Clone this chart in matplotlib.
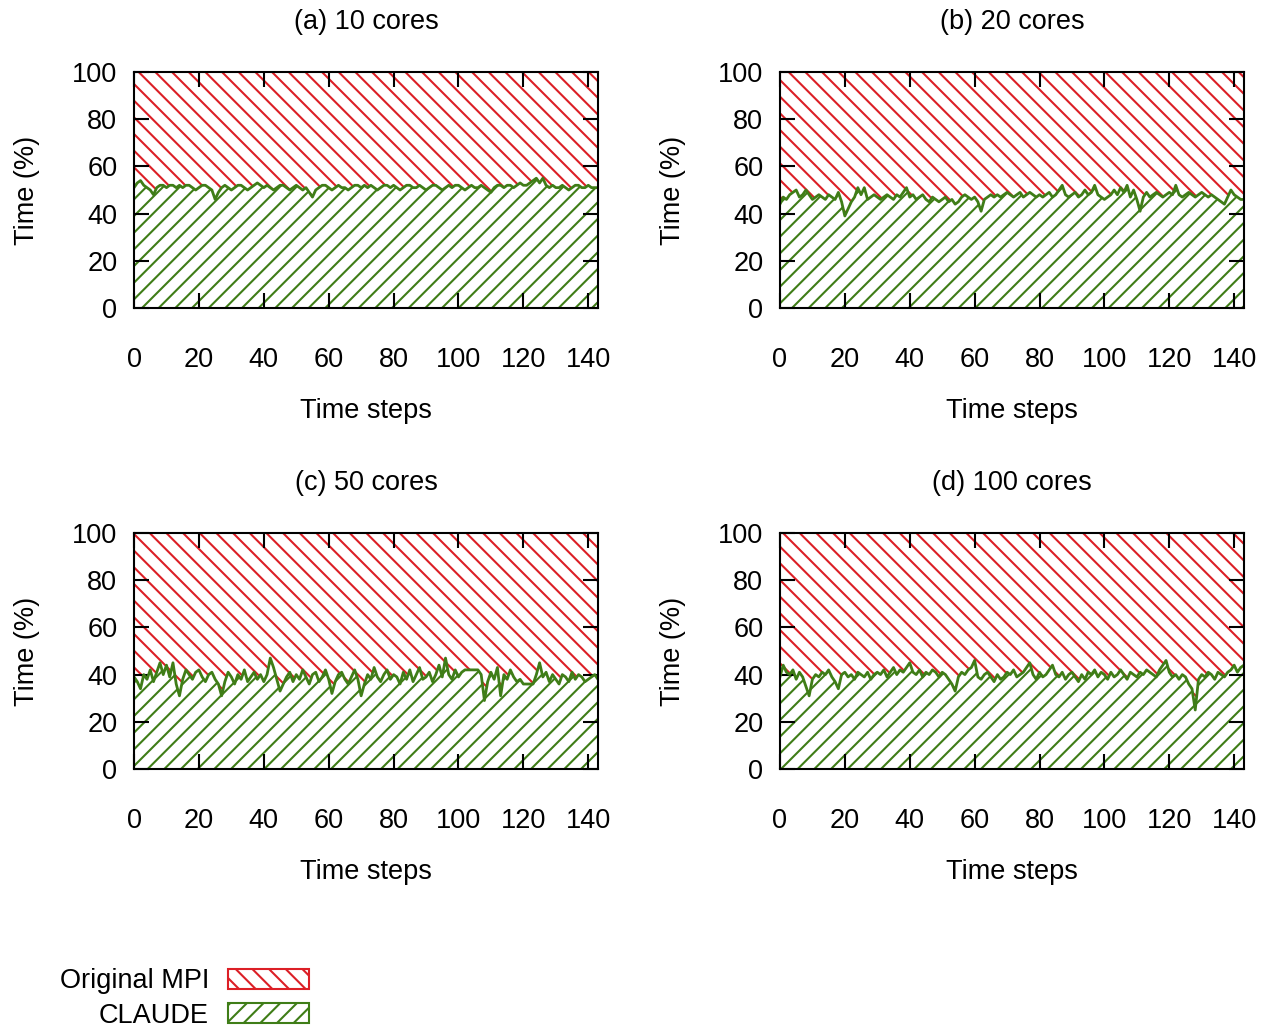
import matplotlib.pyplot as plt
import numpy as np
from matplotlib.patches import Patch

# Share of each time step (%) spent in CLAUDE; the rest is the original MPI code
claude_10 = [51, 53, 54, 52, 51, 50, 48, 51, 52, 52, 51, 52, 52, 51, 52, 51, 52, 52, 51, 50,
             51, 52, 52, 51, 50, 46, 49, 51, 52, 51, 50, 51, 52, 52, 51, 50, 51, 52, 53, 52,
             51, 52, 51, 50, 51, 52, 52, 51, 50, 51, 52, 51, 50, 51, 49, 47, 50, 51, 52, 52,
             51, 50, 51, 52, 51, 51, 50, 51, 52, 52, 51, 52, 51, 52, 51, 50, 51, 52, 52, 51,
             52, 51, 50, 51, 52, 52, 51, 51, 52, 51, 50, 51, 52, 52, 51, 50, 51, 52, 51, 52,
             52, 51, 50, 51, 52, 51, 51, 52, 51, 50, 49, 51, 52, 52, 51, 52, 52, 51, 52, 53,
             52, 52, 53, 54, 55, 53, 55, 52, 51, 52, 51, 51, 52, 51, 50, 51, 52, 52, 51, 51,
             52, 51, 51, 51]

claude_20 = [44, 47, 46, 48, 49, 50, 47, 48, 50, 48, 46, 47, 48, 47, 46, 48, 47, 46, 49, 45,
             39, 42, 45, 47, 51, 48, 51, 46, 47, 48, 47, 46, 47, 48, 47, 46, 48, 47, 49, 51,
             47, 48, 46, 47, 48, 46, 45, 47, 46, 45, 46, 47, 45, 46, 44, 45, 47, 48, 47, 46,
             47, 45, 41, 46, 47, 48, 47, 48, 47, 48, 49, 48, 47, 48, 49, 47, 48, 49, 48, 47,
             48, 47, 48, 49, 47, 48, 50, 52, 48, 47, 48, 49, 47, 48, 50, 48, 49, 52, 48, 47,
             46, 47, 48, 50, 48, 51, 49, 52, 47, 50, 46, 41, 47, 49, 47, 48, 49, 48, 47, 48,
             49, 48, 52, 48, 47, 48, 49, 48, 47, 48, 49, 48, 47, 48, 47, 46, 45, 44, 47, 50,
             48, 47, 46, 46]

claude_50 = [39, 37, 34, 40, 38, 42, 37, 41, 45, 40, 44, 39, 45, 36, 31, 38, 42, 40, 38, 41,
             42, 39, 37, 40, 41, 38, 36, 31, 37, 41, 39, 36, 40, 38, 42, 37, 39, 41, 38, 40,
             37, 40, 47, 43, 38, 33, 36, 39, 41, 37, 40, 38, 42, 39, 36, 40, 41, 37, 39, 42,
             38, 32, 37, 40, 41, 38, 36, 39, 42, 38, 31, 36, 40, 38, 43, 39, 37, 40, 42, 38,
             40, 39, 36, 41, 38, 42, 37, 40, 43, 38, 39, 41, 37, 40, 44, 39, 47, 40, 38, 42,
             39, 41, 42, 42, 42, 42, 42, 40, 29, 37, 41, 38, 43, 31, 40, 38, 42, 39, 37, 38,
             36, 36, 36, 36, 40, 45, 39, 41, 37, 40, 38, 36, 40, 39, 37, 41, 38, 40, 39, 37,
             38, 39, 40, 38]

claude_100 = [39, 44, 41, 40, 42, 38, 41, 39, 35, 31, 38, 40, 39, 41, 40, 42, 39, 37, 34, 40,
              41, 39, 40, 38, 41, 40, 39, 41, 38, 40, 41, 40, 42, 39, 41, 43, 40, 42, 41, 43,
              45, 41, 40, 42, 39, 41, 40, 42, 41, 39, 41, 40, 38, 36, 33, 39, 41, 40, 42, 43,
              46, 39, 38, 40, 41, 39, 37, 40, 38, 39, 41, 40, 42, 39, 40, 41, 43, 45, 40, 38,
              41, 39, 40, 42, 44, 40, 39, 41, 38, 40, 41, 39, 37, 40, 38, 41, 40, 42, 39, 41,
              40, 38, 41, 39, 40, 42, 40, 38, 41, 40, 39, 41, 40, 42, 41, 40, 39, 42, 44, 46,
              41, 39, 40, 38, 40, 39, 36, 34, 25, 38, 40, 39, 41, 40, 38, 41, 40, 39, 41, 42,
              44, 41, 43, 44]

titles = ['(a) 10 cores', '(b) 20 cores', '(c) 50 cores', '(d) 100 cores']
series = [claude_10, claude_20, claude_50, claude_100]

RED = '#dc1f26'
GREEN = '#3f7d17'

plt.rcParams['font.family'] = ['Liberation Sans', 'DejaVu Sans']
plt.rcParams['font.size'] = 19.5
plt.rcParams['hatch.linewidth'] = 1.5

fig = plt.figure(figsize=(12.68, 10.29), dpi=100)

# axes boxes in figure fractions: left, bottom, width, height
boxes = [(0.1057, 0.7007, 0.3659, 0.2293), (0.6151, 0.7007, 0.3659, 0.2293),
         (0.1057, 0.2527, 0.3659, 0.2293), (0.6151, 0.2527, 0.3659, 0.2293)]

for box, title, vals in zip(boxes, titles, series):
    ax = fig.add_axes(box)
    steps = np.arange(len(vals))
    ax.fill_between(steps, 0, vals, facecolor='white', edgecolor=GREEN,
                    hatch='//', linewidth=0)
    ax.fill_between(steps, vals, 100, facecolor='white', edgecolor=RED,
                    hatch='\\\\', linewidth=0)
    ax.plot(steps, vals, color=GREEN, lw=2.0)
    ax.set_xlim(0, 143)
    ax.set_ylim(0, 100)
    ax.set_xticks(range(0, 141, 20))
    ax.set_yticks(range(0, 101, 20))
    ax.tick_params(direction='in', top=True, right=True, length=11, width=1.5)
    ax.tick_params(axis='x', pad=28)
    ax.tick_params(axis='y', pad=12)
    for s in ax.spines.values():
        s.set_linewidth(1.5)
    ax.set_xlabel('Time steps', labelpad=18)
    ax.set_ylabel('Time (%)', labelpad=23)
    ax.set_title(title, pad=31, fontsize=19.5)

handles = [Patch(facecolor='white', edgecolor=RED, hatch='\\\\', lw=1.5),
           Patch(facecolor='white', edgecolor=GREEN, hatch='//', lw=1.5)]
fig.legend(handles, ['Original MPI', 'CLAUDE'], loc='lower left',
           bbox_to_anchor=(0.032, -0.018), frameon=False, markerfirst=False,
           handlelength=3.0, handleheight=0.75, handletextpad=0.7, labelspacing=0.3,
           borderpad=0.2)

fig.savefig('out.png', dpi=100)
